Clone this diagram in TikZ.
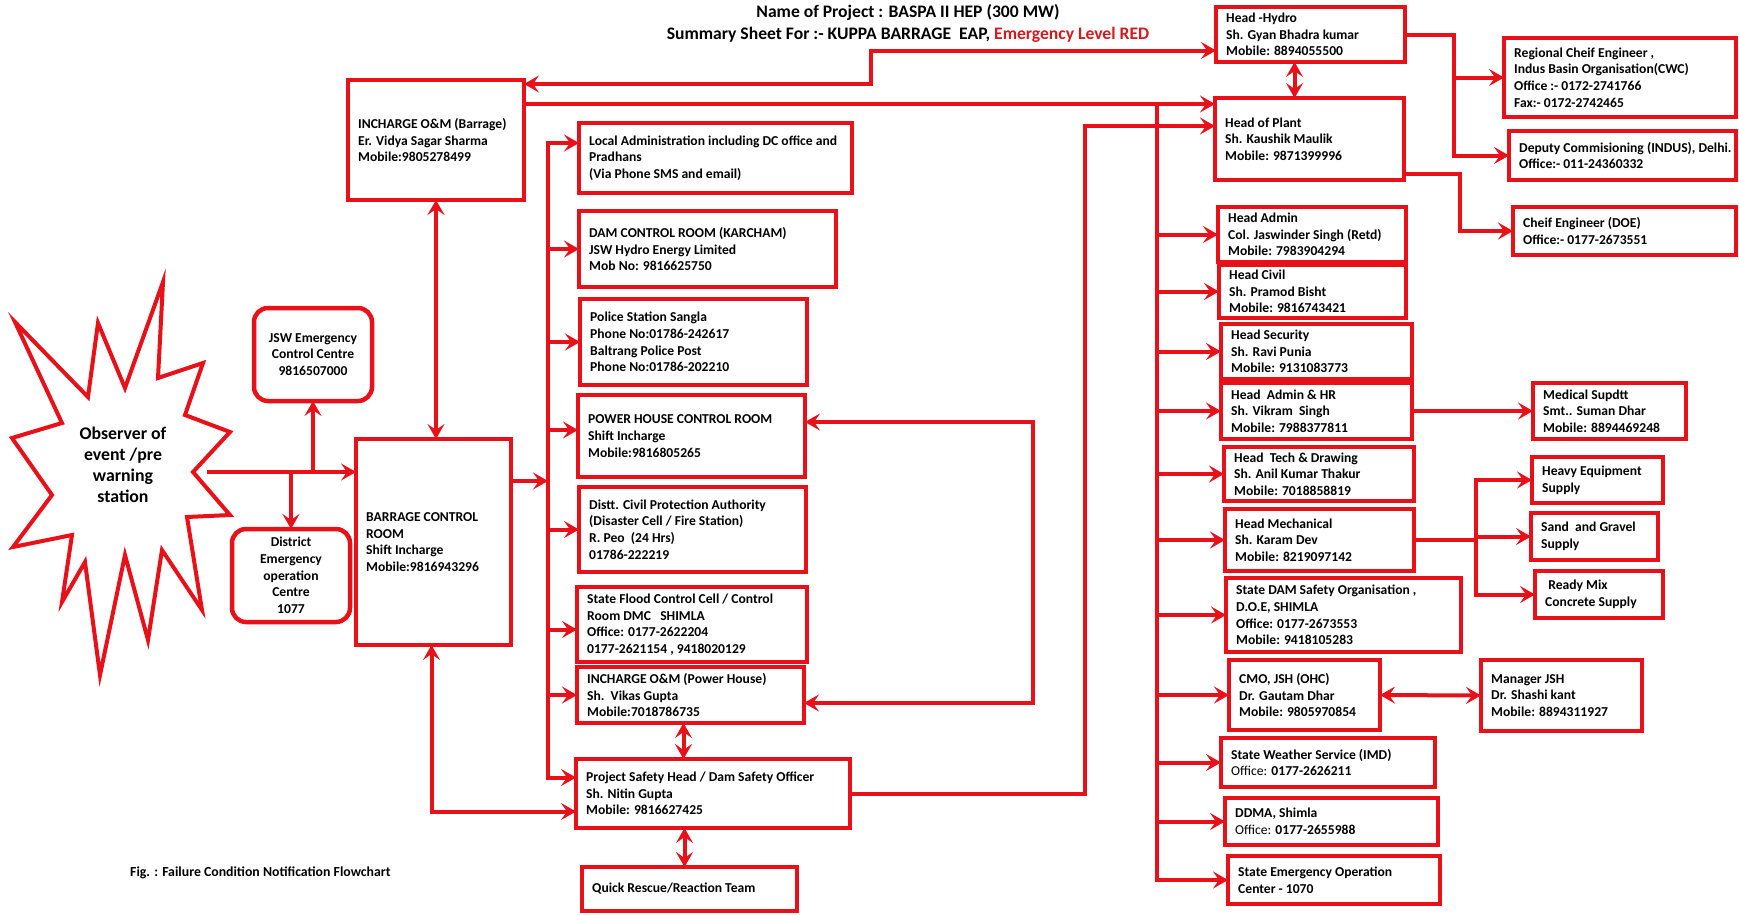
\documentclass[tikz,border=0pt]{standalone}
\usepackage{fontspec}
\setmainfont{Carlito}
\usetikzlibrary{arrows.meta,fit}

\definecolor{frame}{RGB}{232,17,25}
\definecolor{alert}{RGB}{215,25,30}

\tikzset{
  box/.style={draw=frame, line width=4.5pt, fill=white, inner sep=0pt, outer sep=0pt},
  rbox/.style={box, rounded corners=14pt},
  txt/.style={inner sep=0pt, align=left, font=\bfseries\fontsize{13.6}{16.7}\selectfont},
  ctxt/.style={txt, align=center},
  link/.style={draw=frame, line width=4pt, line cap=rect},
  tip/.tip={Stealth[length=15pt,width=17pt,inset=6pt]},
  arr/.style={link, -tip},
  dbl/.style={link, tip-tip},
}

% rectangular box between two corners, text set at its left side
\newcommand\infobox[7][box]{%
  \node[#1, fit={(#3,#4)(#5,#6)}] (#2) {};
  \node[txt, anchor=west] (#2-t) at ([xshift=10pt]#2.west) {#7};}

\begin{document}
\begin{tikzpicture}[x=1pt,y=-1pt]
\useasboundingbox (0,0) rectangle (1739,914);

% headings
\node[inner sep=0pt, font=\bfseries\fontsize{17.6}{20}\selectfont] (title) at (908,12)
  {Name of Project : BASPA II HEP (300 MW)};
\node[inner sep=0pt, font=\bfseries\fontsize{17.6}{20}\selectfont] (subtitle) at (908,35)
  {Summary Sheet For :- KUPPA BARRAGE\ \ EAP, \textcolor{alert}{Emergency Level RED}};
\node[inner sep=0pt, anchor=west, font=\bfseries\fontsize{13.8}{16}\selectfont] (caption) at (130,873)
  {Fig. : Failure Condition Notification Flowchart};

% observer burst
\draw[draw=frame, fill=white, line width=4pt, line join=miter]
  (163,282) -- (158,378) -- (203,363) -- (185,415) -- (230,432) -- (193,472)
  -- (230,515) -- (187,517) -- (202,610) -- (162,550) -- (148,640) -- (125,555)
  -- (100,675) -- (85,562) -- (62,602) -- (72,535) -- (13,547) -- (52,495)
  -- (12,438) -- (62,423) -- (15,322) -- (88,397) -- (98,323) -- (125,388) -- cycle;
\node[ctxt, font=\bfseries\fontsize{17.8}{20.8}\selectfont] (obs) at (123,465)
  {Observer of\\event /pre\\warning\\station};

% rounded centres
\node[rbox, fit={(254,308)(372,401)}] (jsw) {};
\node[ctxt] (jsw-t) at (jsw.center) {JSW Emergency\\Control Centre\\9816507000};
\node[rbox, fit={(232,529)(350,622)}] (deoc) {};
\node[ctxt] (deoc-t) at (deoc.center) {District\\Emergency\\operation\\Centre\\1077};

% left column
\infobox{omb}{348}{80}{524}{200}{INCHARGE O\&M (Barrage)\\Er. Vidya Sagar Sharma\\Mobile:9805278499}
\infobox{bcr}{356}{439}{511}{645}{BARRAGE CONTROL\\ROOM\\Shift Incharge\\Mobile:9816943296}

% middle column
\infobox{la}{579}{123}{852}{193}{Local Administration including DC office and\\Pradhans\\(Via Phone SMS and email)}
\infobox{dam}{579}{211}{836}{287}{DAM CONTROL ROOM (KARCHAM)\\JSW Hydro Energy Limited\\Mob No: 9816625750}
\infobox{pol}{580}{299}{807}{385}{Police Station Sangla\\Phone No:01786-242617\\Baltrang Police Post\\Phone No:01786-202210}
\infobox{phcr}{578}{395}{805}{477}{POWER HOUSE CONTROL ROOM\\Shift Incharge\\Mobile:9816805265}
\infobox{dcpa}{579}{487}{806}{572}{Distt. Civil Protection Authority\\(Disaster Cell / Fire Station)\\R. Peo\ \ (24 Hrs)\\01786-222219}
\infobox{sfc}{577}{587}{807}{662}{State Flood Control Cell / Control\\Room DMC\ \ \ SHIMLA\\Office: 0177-2622204\\0177-2621154 , 9418020129}
\infobox{omph}{577}{667}{804}{723}{INCHARGE O\&M (Power House)\\Sh.\ \ Vikas Gupta\\Mobile:7018786735}
\infobox{ps}{576}{759}{850}{828}{Project Safety Head / Dam Safety Officer\\Sh. Nitin Gupta\\Mobile: 9816627425}
\infobox{qr}{582}{867}{797}{911}{Quick Rescue/Reaction Team}

% plant column
\infobox{hh}{1216}{7}{1405}{62}{Head -Hydro\\Sh. Gyan Bhadra kumar\\Mobile: 8894055500}
\infobox{hp}{1215}{98}{1404}{180}{Head of Plant\\Sh. Kaushik Maulik\\Mobile: 9871399996}
\infobox{had}{1218}{207}{1406}{262}{Head Admin\\Col. Jaswinder Singh (Retd)\\Mobile: 7983904294}
\infobox{hc}{1219}{265}{1406}{318}{Head Civil\\Sh. Pramod Bisht\\Mobile: 9816743421}
\infobox{hs}{1221}{324}{1412}{379}{Head Security\\Sh. Ravi Punia\\Mobile: 9131083773}
\infobox{har}{1221}{383}{1412}{439}{Head\ \ Admin \& HR\\Sh. Vikram\ \ Singh\\Mobile: 7988377811}
\infobox{ht}{1224}{447}{1414}{501}{Head\ \ Tech \& Drawing\\Sh. Anil Kumar Thakur\\Mobile: 7018858819}
\infobox{hm}{1225}{509}{1414}{571}{Head Mechanical\\Sh. Karam Dev\\Mobile: 8219097142}
\infobox{sdso}{1226}{578}{1461}{652}{State DAM Safety Organisation ,\\D.O.E, SHIMLA\\Office: 0177-2673553\\Mobile: 9418105283}
\infobox{cmo}{1229}{660}{1380}{730}{CMO, JSH (OHC)\\Dr. Gautam Dhar\\Mobile: 9805970854}
\infobox{imd}{1221}{738}{1435}{787}{State Weather Service (IMD)\\{\mdseries Office:} 0177-2626211}
\infobox{ddma}{1225}{798}{1438}{845}{DDMA, Shimla\\{\mdseries Office:} 0177-2655988}
\infobox{seoc}{1228}{856}{1440}{904}{State Emergency Operation\\Center - 1070}

% outer column
\infobox{rce}{1504}{38}{1736}{117}{Regional Cheif Engineer ,\\Indus Basin Organisation(CWC)\\Office :- 0172-2741766\\Fax:- 0172-2742465}
\infobox{dep}{1509}{131}{1736}{180}{Deputy Commisioning (INDUS), Delhi.\\Office:- 011-24360332}
\infobox{ce}{1513}{207}{1736}{255}{Cheif Engineer (DOE)\\Office:- 0177-2673551}
\infobox{med}{1533}{383}{1686}{439}{Medical Supdtt\\Smt.. Suman Dhar\\Mobile: 8894469248}
\infobox{heq}{1532}{457}{1663}{503}{Heavy Equipment\\Supply}
\infobox{sand}{1531}{513}{1658}{560}{Sand\ \ and Gravel\\Supply}
\infobox{rmc}{1535}{571}{1663}{618}{\ Ready Mix\\Concrete Supply}
\infobox{mgr}{1481}{660}{1642}{731}{Manager JSH\\Dr. Shashi kant\\Mobile: 8894311927}

% ---- connectors ----
% observer to barrage control room and the two centres
\coordinate (so) at (209,472);
\draw[arr] (so) -- (so -| bcr.west);
\draw[arr] (so -| jsw.south) -- (jsw.south);
\draw[arr] (so -| deoc.north) -- (deoc.north);

% barrage control room links
\draw[dbl] (omb.south) -- (omb.south |- bcr.north);
\coordinate (psb) at ([yshift=-18pt]ps.west);
\coordinate (bcs) at ([xshift=-2pt]bcr.south);
\draw[dbl] (bcs) -- (bcs |- psb) -- (psb);

% distribution bus, middle column
\coordinate (busL) at (548,481);
\draw[arr] (bcr.east |- busL) -- (busL);
\coordinate (laa) at ([yshift=15pt]la.west);
\coordinate (pha) at ([yshift=6pt]phcr.west);
\coordinate (sfa) at ([yshift=-5pt]sfc.west);
\coordinate (psa) at ([yshift=16pt]ps.west);
\draw[link] (busL |- laa) -- (busL |- psa);
\foreach \n in {laa,pha,sfa,psa} \draw[arr] (busL |- \n) -- (\n);
\foreach \n in {dam,pol,dcpa,omph} \draw[arr] (busL |- \n.west) -- (\n.west);

% power house control room and O&M power house
\coordinate (brA) at ([yshift=14pt]phcr.east);
\coordinate (brB) at ([yshift=-8pt]omph.east);
\coordinate (brX) at (1033,0);
\draw[dbl] (brA) -- (brA -| brX) -- (brB -| brX) -- (brB);

\coordinate (oq) at ([xshift=-7pt]omph.south);
\draw[dbl] (oq) -- (oq |- ps.north);
\coordinate (qq) at ([xshift=-5pt]qr.north);
\draw[dbl] (qq |- ps.south) -- (qq);

% project safety head to head of plant
\coordinate (hpa) at ([yshift=13pt]hp.west);
\coordinate (v2) at (1085,0);
\draw[arr] (ps.east) -- (ps.east -| v2) -- (hpa -| v2) -- (hpa);

% O&M barrage to head of plant and the plant bus
\coordinate (omr) at ([yshift=36pt]omb.east);
\draw[arr] (omr) -- (omr -| hp.west);
\coordinate (busR) at (1157,0);
\draw[link] (busR |- omr) -- (busR |- seoc.west);
\foreach \n in {had,hc,hs,har,ht,hm,sdso,cmo,imd,ddma,seoc}
  \draw[arr] (busR |- \n.west) -- (\n.west);

% O&M barrage and head hydro
\coordinate (s1) at (871,84);
\coordinate (s2) at ([yshift=-16pt]hh.west);
\draw[dbl] (omb.east |- s1) -- (s1) -- (s1 |- s2) -- (s2);

\coordinate (hx) at ([xshift=-16pt]hh.south);
\draw[dbl] (hx) -- (hx |- hp.north);

% head hydro to CWC offices
\coordinate (r1) at (1454,0);
\draw[link] (hh.east) -- (hh.east -| r1) -- (r1 |- dep.west);
\draw[arr] (r1 |- rce.west) -- (rce.west);
\draw[arr] (r1 |- dep.west) -- (dep.west);

% head of plant to chief engineer
\coordinate (c1) at ([yshift=-35pt]hp.east);
\coordinate (r2) at (1460,0);
\draw[arr] (c1) -- (c1 -| r2) -- (r2 |- ce.west) -- (ce.west);

% side links
\draw[arr] (har.east) -- (med.west);
\coordinate (m1) at (1476,0);
\draw[link] (hm.east) -- (hm.east -| m1);
\draw[link] (m1 |- heq.west) -- (m1 |- rmc.west);
\foreach \n in {heq,sand,rmc} \draw[arr] (m1 |- \n.west) -- (\n.west);
\draw[dbl] (cmo.east) -- (mgr.west);
\end{tikzpicture}
\end{document}
